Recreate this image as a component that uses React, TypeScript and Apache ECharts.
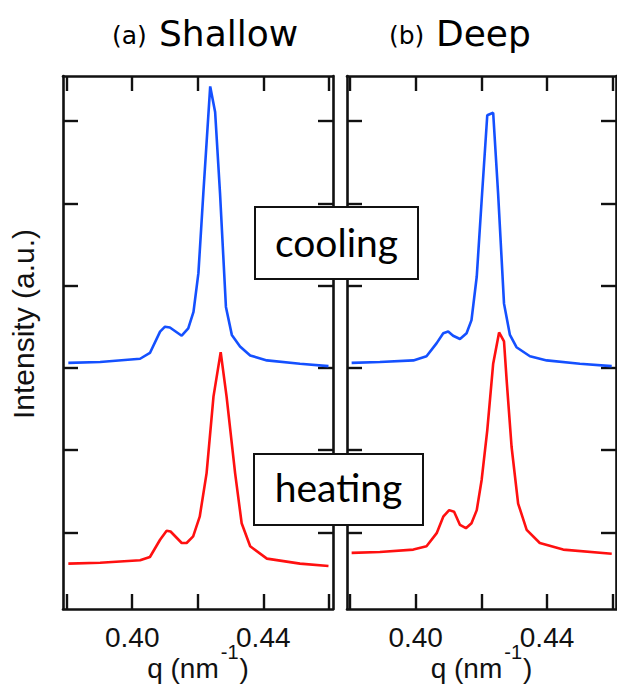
import React, { useEffect, useRef } from "react";
import * as echarts from "echarts";

// ---- data ----
const panelTitles = ["(a)", "(b)"];
const panelNames = ["Shallow", "Deep"];
const boxLabels = ["cooling", "heating"];

const xTicks = [0.38, 0.4, 0.42, 0.44, 0.46];
const xTickLabels = [0.4, 0.44];
const yTicks = [1, 2, 3, 4, 5, 6];

// (a) Shallow — cooling (blue)
const qShallowCool = [0.3805, 0.3902, 0.4024, 0.4054, 0.4085, 0.41, 0.4115, 0.4151, 0.4171, 0.4187, 0.4202, 0.4217, 0.4238, 0.4253, 0.4268, 0.4286, 0.4304, 0.4329, 0.436, 0.4411, 0.4512, 0.4599];
const iShallowCool = [3.06, 3.07, 3.11, 3.18, 3.44, 3.5, 3.49, 3.39, 3.48, 3.68, 4.15, 5.12, 6.42, 6.11, 5.12, 3.74, 3.4, 3.26, 3.15, 3.09, 3.05, 3.02];
// (a) Shallow — heating (red)
const qShallowHeat = [0.3805, 0.3902, 0.4024, 0.4054, 0.4085, 0.4105, 0.4117, 0.4151, 0.4166, 0.4186, 0.4206, 0.4227, 0.4248, 0.427, 0.4288, 0.4314, 0.4334, 0.436, 0.4411, 0.4512, 0.4599];
const iShallowHeat = [0.62, 0.63, 0.66, 0.7, 0.91, 1.02, 1.01, 0.87, 0.87, 0.95, 1.19, 1.72, 2.65, 3.19, 2.65, 1.72, 1.11, 0.83, 0.68, 0.62, 0.59];
// (b) Deep — cooling (blue)
const qDeepCool = [0.3805, 0.3891, 0.3993, 0.4033, 0.4064, 0.4084, 0.4099, 0.4114, 0.4135, 0.4155, 0.417, 0.4186, 0.4201, 0.4218, 0.4236, 0.4251, 0.4269, 0.4287, 0.4307, 0.4348, 0.4399, 0.45, 0.4597];
const iDeepCool = [3.06, 3.07, 3.09, 3.14, 3.3, 3.42, 3.44, 3.39, 3.35, 3.42, 3.58, 4.11, 5.04, 6.07, 6.1, 5.12, 3.78, 3.4, 3.25, 3.14, 3.09, 3.05, 3.02];
// (b) Deep — heating (red)
const qDeepHeat = [0.3805, 0.3891, 0.3993, 0.4033, 0.4064, 0.4084, 0.4102, 0.4117, 0.4135, 0.4153, 0.417, 0.4186, 0.4201, 0.4218, 0.4236, 0.4254, 0.4269, 0.4277, 0.4292, 0.4312, 0.4338, 0.4378, 0.4449, 0.4597];
const iDeepHeat = [0.75, 0.76, 0.79, 0.83, 0.99, 1.19, 1.27, 1.25, 1.09, 1.05, 1.11, 1.27, 1.64, 2.24, 3.05, 3.43, 3.32, 2.85, 2.04, 1.35, 1.03, 0.87, 0.79, 0.74];

const zip = (a: number[], b: number[]) => a.map((v, i) => [v, b[i]]);

const FRAME = "#111111";
const BLUE = "#1450ff";
const RED = "#ff1010";
const SANS = "'Liberation Sans', Arial, sans-serif";
const TITLE_FONT = "'DejaVu Sans', sans-serif";
const BOX_FONT = "Lato, 'Open Sans', sans-serif";

export default function App() {
  const ref = useRef<HTMLDivElement>(null);

  useEffect(() => {
    document.body.style.margin = "0";
    if (!ref.current) return;
    const chart = echarts.init(ref.current, undefined, { renderer: "svg" });

    const grids = [
      { left: 63, top: 76, width: 270, height: 533 },
      { left: 347, top: 76, width: 269, height: 533 },
    ];
    const xRanges = [
      [0.37887, 0.46128],
      [0.37909, 0.461],
    ];
    const yMin = 0.068;
    const yMax = 6.547;

    const lineStyle = { color: FRAME, width: 2.6 };
    const tickStyle = { color: FRAME, width: 2.4 };

    const xAxes: any[] = [];
    const yAxes: any[] = [];
    grids.forEach((_, g) => {
      xAxes.push({
        type: "value",
        gridIndex: g,
        position: "bottom",
        min: xRanges[g][0],
        max: xRanges[g][1],
        axisLine: { show: true, onZero: false, lineStyle },
        axisTick: { show: true, inside: true, length: 15, lineStyle: tickStyle, customValues: xTicks },
        axisLabel: {
          show: true,
          customValues: xTickLabels,
          formatter: (v: number) => v.toFixed(2),
          fontSize: 28,
          fontFamily: SANS,
          color: FRAME,
          margin: 14,
        },
        splitLine: { show: false },
        name: "{a|q (nm}{s|-1}{a|)}",
        nameLocation: "middle",
        nameGap: 39,
        nameMoveOverlap: false,
        nameTextStyle: {
          rich: {
            a: { fontSize: 28, fontFamily: SANS, color: FRAME, lineHeight: 40 },
            s: { fontSize: 20, fontFamily: SANS, color: FRAME, lineHeight: 20, padding: [0, 1, 32, 2] },
          },
        },
      });
      xAxes.push({
        type: "value",
        gridIndex: g,
        position: "top",
        min: xRanges[g][0],
        max: xRanges[g][1],
        axisLine: { show: true, onZero: false, lineStyle },
        axisTick: { show: true, inside: true, length: 15, lineStyle: tickStyle, customValues: xTicks },
        axisLabel: { show: false },
        splitLine: { show: false },
      });
      yAxes.push({
        type: "value",
        gridIndex: g,
        position: "left",
        min: yMin,
        max: yMax,
        axisLine: { show: true, onZero: false, lineStyle },
        axisTick: { show: true, inside: true, length: 15, lineStyle: tickStyle, customValues: yTicks },
        axisLabel: { show: false },
        splitLine: { show: false },
      });
      yAxes.push({
        type: "value",
        gridIndex: g,
        position: "right",
        min: yMin,
        max: yMax,
        axisLine: { show: true, onZero: false, lineStyle },
        axisTick: { show: true, inside: true, length: 15, lineStyle: tickStyle, customValues: yTicks },
        axisLabel: { show: false },
        splitLine: { show: false },
      });
    });

    const mk = (name: string, data: number[][], color: string, g: number) => ({
      name,
      type: "line",
      xAxisIndex: g * 2,
      yAxisIndex: g * 2,
      data,
      showSymbol: false,
      symbol: "none",
      lineStyle: { color, width: 2.6 },
      z: 5,
    });

    const box = (label: string, x: number, y: number, w: number, h: number, ty: number) => ({
      type: "group",
      z: 100,
      children: [
        {
          type: "rect",
          shape: { x, y, width: w, height: h },
          style: { fill: "#ffffff", stroke: FRAME, lineWidth: 2 },
          z: 100,
        },
        {
          type: "text",
          x: x + w / 2,
          y: ty,
          style: {
            text: label,
            fontSize: 39,
            fontFamily: BOX_FONT,
            fill: "#000000",
            align: "center",
            verticalAlign: "middle",
          },
          z: 101,
        },
      ],
    });

    const option: any = {
      animation: false,
      backgroundColor: "#ffffff",
      grid: grids.map((g) => ({ ...g, containLabel: false, outerBoundsMode: "none" })),
      xAxis: xAxes,
      yAxis: yAxes,
      series: [
        mk("cooling", zip(qShallowCool, iShallowCool), BLUE, 0),
        mk("heating", zip(qShallowHeat, iShallowHeat), RED, 0),
        mk("cooling", zip(qDeepCool, iDeepCool), BLUE, 1),
        mk("heating", zip(qDeepHeat, iDeepHeat), RED, 1),
      ],
      graphic: [
        { type: "text", x: 112, y: 35, style: { text: panelTitles[0], fontSize: 25, fontFamily: TITLE_FONT, fill: "#000", align: "left", verticalAlign: "middle" } },
        { type: "text", x: 159, y: 33, style: { text: panelNames[0], fontSize: 36, fontFamily: TITLE_FONT, fill: "#000", align: "left", verticalAlign: "middle" } },
        { type: "text", x: 389, y: 35, style: { text: panelTitles[1], fontSize: 25, fontFamily: TITLE_FONT, fill: "#000", align: "left", verticalAlign: "middle" } },
        { type: "text", x: 436, y: 33, style: { text: panelNames[1], fontSize: 36, fontFamily: TITLE_FONT, fill: "#000", align: "left", verticalAlign: "middle" } },
        {
          type: "text",
          x: 23,
          y: 324,
          rotation: Math.PI / 2,
          style: { text: "Intensity (a.u.)", fontSize: 30, fontFamily: SANS, fill: FRAME, align: "center", verticalAlign: "middle" },
        },
        box(boxLabels[0], 255, 207, 163, 72, 242),
        box(boxLabels[1], 254, 454, 169, 71, 487),
      ],
    };

    chart.setOption(option);
    return () => chart.dispose();
  }, []);

  return <div ref={ref} style={{ width: 617, height: 690 }} />;
}
